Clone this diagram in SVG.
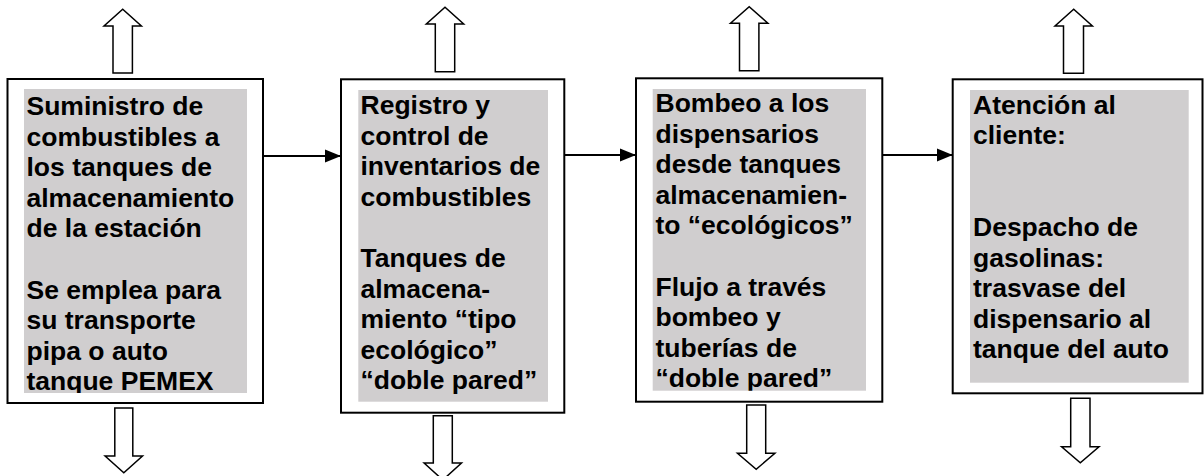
<svg xmlns="http://www.w3.org/2000/svg" width="1204" height="476" viewBox="0 0 1204 476">
<style>
.box{fill:#fff;stroke:#000;stroke-width:2}
.shade{fill:#d0cecf}
.t{font-family:"Liberation Sans",Arial,sans-serif;font-weight:bold;font-size:26.5px;fill:#000}
.hollow{fill:#fff;stroke:#000;stroke-width:1.5;stroke-linejoin:miter}
.conn{stroke:#000;stroke-width:2;fill:none}
</style>
<defs>
<marker id="ah" markerUnits="userSpaceOnUse" markerWidth="16" markerHeight="14" refX="16" refY="7" orient="auto">
<path d="M0,0.5 L16,7 L0,13.5 Z" fill="#000"/>
</marker>
<clipPath id="c1"><rect x="24" y="89" width="223" height="304"/></clipPath>
<clipPath id="c2"><rect x="358.3" y="90" width="189.7" height="311.7"/></clipPath>
<clipPath id="c3"><rect x="652.7" y="89" width="213.3" height="301.7"/></clipPath>
<clipPath id="c4"><rect x="970" y="90" width="218.7" height="292.7"/></clipPath>
</defs>

<g id="connectors">
<line class="conn" x1="263" y1="156" x2="341" y2="156" marker-end="url(#ah)"/>
<line class="conn" x1="564.3" y1="155" x2="636" y2="155" marker-end="url(#ah)"/>
<line class="conn" x1="882.3" y1="155" x2="952.7" y2="155" marker-end="url(#ah)"/>
</g>

<g id="node1">
<rect class="box" x="7.5" y="79" width="255.5" height="324"/>
<rect class="shade" x="24" y="89" width="223" height="304"/>
<text class="t" clip-path="url(#c1)">
<tspan x="26.5" y="115">Suministro de</tspan>
<tspan x="26.5" y="145.6">combustibles a</tspan>
<tspan x="26.5" y="176.2">los tanques de</tspan>
<tspan x="26.5" y="206.8">almacenamiento</tspan>
<tspan x="26.5" y="237.4">de la estación</tspan>
<tspan x="26.5" y="298.6">Se emplea para</tspan>
<tspan x="26.5" y="329.2">su transporte</tspan>
<tspan x="26.5" y="359.8">pipa o auto</tspan>
<tspan x="26.5" y="390.4">tanque PEMEX</tspan>
</text>
<path class="hollow" d="M113,73 V26 H104 L122.7,9.3 L141.4,26 H132.4 V73 Z"/>
<path class="hollow" d="M114.8,408 V456 H105.1 L123.8,472.7 L142.5,456 H132.8 V408 Z"/>
</g>

<g id="node2">
<rect class="box" x="341" y="79.3" width="223.3" height="333.4"/>
<rect class="shade" x="358.3" y="90" width="189.7" height="311.7"/>
<text class="t" clip-path="url(#c2)">
<tspan x="360.5" y="114">Registro y</tspan>
<tspan x="360.5" y="144.6">control de</tspan>
<tspan x="360.5" y="175.2">inventarios de</tspan>
<tspan x="360.5" y="205.8">combustibles</tspan>
<tspan x="360.5" y="266.9">Tanques de</tspan>
<tspan x="360.5" y="297.5">almacena-</tspan>
<tspan x="360.5" y="328.1">miento “tipo</tspan>
<tspan x="360.5" y="358.7">ecológico”</tspan>
<tspan x="360.5" y="389.3">“doble pared”</tspan>
</text>
<path class="hollow" d="M435.3,71.7 V24 H426.3 L445,7.3 L463.7,24 H454.7 V71.7 Z"/>
<path class="hollow" d="M433.3,415.7 V463 H424.1 L442.8,480 L461.5,463 H452.3 V415.7 Z"/>
</g>

<g id="node3">
<rect class="box" x="636" y="78.3" width="246.3" height="323.4"/>
<rect class="shade" x="652.7" y="89" width="213.3" height="301.7"/>
<text class="t" clip-path="url(#c3)">
<tspan x="655.5" y="112">Bombeo a los</tspan>
<tspan x="655.5" y="142.6">dispensarios</tspan>
<tspan x="655.5" y="173.2">desde tanques</tspan>
<tspan x="655.5" y="203.8">almacenamien-</tspan>
<tspan x="655.5" y="234.4">to “ecológicos”</tspan>
<tspan x="655.5" y="295.6">Flujo a través</tspan>
<tspan x="655.5" y="326.2">bombeo y</tspan>
<tspan x="655.5" y="356.8">tuberías de</tspan>
<tspan x="655.5" y="387.4">“doble pared”</tspan>
</text>
<path class="hollow" d="M739.5,70.7 V23.3 H730.5 L749.2,6.7 L767.9,23.3 H758.9 V70.7 Z"/>
<path class="hollow" d="M746.7,405 V453.3 H737.5 L756.2,469.3 L774.9,453.3 H765.7 V405 Z"/>
</g>

<g id="node4">
<rect class="box" x="952.7" y="79.3" width="249.8" height="314"/>
<rect class="shade" x="970" y="90" width="218.7" height="292.7"/>
<text class="t" clip-path="url(#c4)">
<tspan x="973" y="113.5">Atención al</tspan>
<tspan x="973" y="144.1">cliente:</tspan>
<tspan x="973" y="235.9">Despacho de</tspan>
<tspan x="973" y="266.5">gasolinas:</tspan>
<tspan x="973" y="297.1">trasvase del</tspan>
<tspan x="973" y="327.7">dispensario al</tspan>
<tspan x="973" y="358.3">tanque del auto</tspan>
</text>
<path class="hollow" d="M1063.5,73.3 V26 H1055 L1073.7,9.3 L1092.4,26 H1083.5 V73.3 Z"/>
<path class="hollow" d="M1070.7,398.3 V446.7 H1061.6 L1080.3,462.7 L1099,446.7 H1090 V398.3 Z"/>
</g>
</svg>
